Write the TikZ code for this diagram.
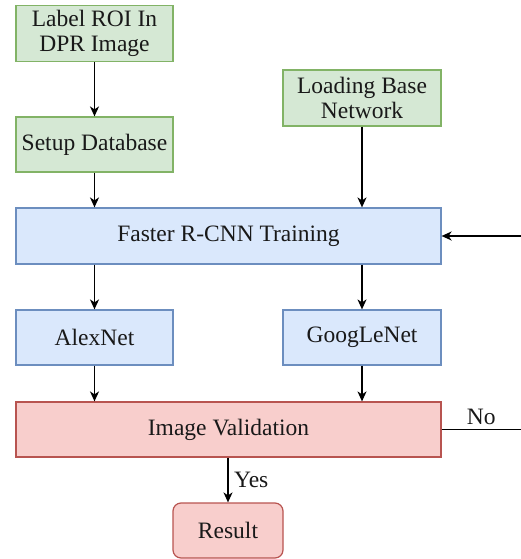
\documentclass[tikz,border=0pt]{standalone}
\usepackage{fontspec}
\setmainfont{Liberation Serif}
\usetikzlibrary{arrows.meta}
\definecolor{gfill}{HTML}{D5E8D4}
\definecolor{gline}{HTML}{82B366}
\definecolor{bfill}{HTML}{DAE8FC}
\definecolor{bline}{HTML}{6C8EBF}
\definecolor{rfill}{HTML}{F8CECC}
\definecolor{rline}{HTML}{B85450}
\tikzset{
  box/.style={draw, line width=1.2pt, inner sep=2pt, align=center,
    font=\fontsize{23.5}{25}\selectfont, text=black!90},
  greenbox/.style={box, fill=gfill, draw=gline},
  bluebox/.style={box, fill=bfill, draw=bline},
  redbox/.style={box, fill=rfill, draw=rline},
  flow/.style={line width=1.6pt, -{Stealth[length=10pt,width=9pt,inset=3pt]}},
  plain/.style={line width=1.6pt},
  lbl/.style={font=\fontsize{23.5}{25}\selectfont, text=black!90}
}
\begin{document}
\begin{tikzpicture}[x=1pt,y=-1pt]
\useasboundingbox (0,0) rectangle (521,559);
% input stages
\node[greenbox, minimum width=157pt, minimum height=56pt] (roi) at (94.5,33.5) {Label ROI In\\DPR Image};
\node[greenbox, minimum width=157pt, minimum height=55pt] (setup) at (94.5,144.5) {Setup Database};
\node[greenbox, minimum width=158pt, minimum height=56pt] (load) at (362,98) {Loading Base\\Network};
% training and networks
\node[bluebox, minimum width=425pt, minimum height=56pt] (train) at (228.5,236) {Faster R-CNN Training};
\node[bluebox, minimum width=157pt, minimum height=55pt] (alex) at (94.5,337.5) {AlexNet};
\node[bluebox, minimum width=158pt, minimum height=55pt] (goog) at (362,337.5) {GoogLeNet};
% validation and result
\node[redbox, minimum width=425pt, minimum height=55pt] (valid) at (228.5,429.5) {Image Validation};
\node[redbox, rounded corners=8pt, minimum width=110pt, minimum height=55pt] (result) at (228,530.5) {Result};
% loop-back ends at the right margin
\coordinate (noend) at (521,429.5);
\coordinate (backstart) at (521,236);
% connectors
\draw[flow] (roi) -- (setup);
\draw[flow] (setup.south) -- (setup.south |- train.north);
\draw[flow] (load) -- (load |- train.north);
\draw[flow] (alex.north |- train.south) -- (alex.north);
\draw[flow] (goog.north |- train.south) -- (goog.north);
\draw[flow] (alex.south) -- (alex.south |- valid.north);
\draw[flow] (goog.south) -- (goog.south |- valid.north);
\draw[flow] (valid.south -| result.north) -- node[lbl, right=2pt] {Yes} (result.north);
\draw[plain] (valid.east) -- node[lbl, above=1pt] {No} (noend);
\draw[flow] (backstart) -- (train.east);
\end{tikzpicture}
\end{document}
